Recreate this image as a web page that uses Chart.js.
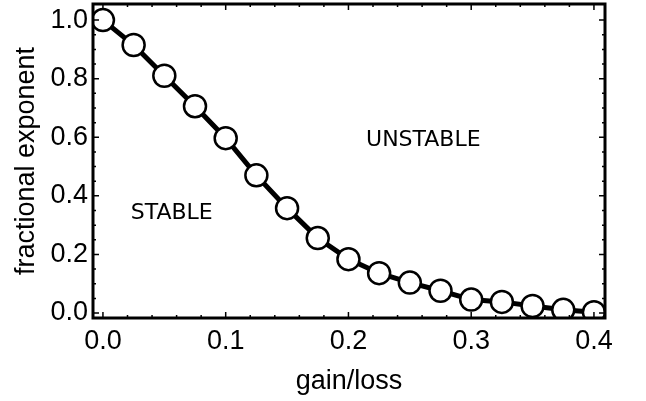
<!DOCTYPE html>
<html>
<head>
<meta charset="utf-8">
<script src="https://cdn.jsdelivr.net/npm/chart.js@4/dist/chart.umd.min.js"></script>
<style>
  html, body { margin: 0; padding: 0; background: #fff; }
  #wrap { width: 646px; height: 401px; }
</style>
</head>
<body>
<div id="wrap"><canvas id="exponent"></canvas></div>
<script>
const gainLoss = [0, 0.025, 0.05, 0.075, 0.1, 0.125, 0.15, 0.175, 0.2, 0.225, 0.25, 0.275, 0.3, 0.325, 0.35, 0.375, 0.4];
const exponent = [1.0, 0.915, 0.81, 0.706, 0.597, 0.47, 0.358, 0.256, 0.184, 0.136, 0.104, 0.076, 0.046, 0.038, 0.024, 0.011, 0.003];
const xTicks = [0, 0.1, 0.2, 0.3, 0.4];
const yTicks = [0, 0.2, 0.4, 0.6, 0.8, 1.0];
const regionNames = ["STABLE", "UNSTABLE"];
const regionAt = [[0.056, 0.34], [0.261, 0.59]];

const axisFont = { family: "'Liberation Sans', Arial, sans-serif", size: 27 };

// frame with inward ticks on all four sides, plus the region labels
const framePlugin = {
  id: "frame",
  afterDatasetsDraw(chart) {
    const { ctx, chartArea: a, scales: { x, y } } = chart;
    ctx.save();
    ctx.strokeStyle = "#000";
    ctx.lineWidth = 1.5;
    ctx.beginPath();
    for (let i = 0; i <= 20; i++) {
      const v = i * 0.02;
      const len = i % 5 === 0 ? 6 : 3;
      const px = x.getPixelForValue(v);
      ctx.moveTo(px, a.bottom); ctx.lineTo(px, a.bottom - len);
      ctx.moveTo(px, a.top); ctx.lineTo(px, a.top + len);
    }
    for (let i = 0; i <= 20; i++) {
      const v = i * 0.05;
      const len = i % 4 === 0 ? 6 : 3;
      const py = y.getPixelForValue(v);
      ctx.moveTo(a.left, py); ctx.lineTo(a.left + len, py);
      ctx.moveTo(a.right, py); ctx.lineTo(a.right - len, py);
    }
    ctx.stroke();
    ctx.lineWidth = 3;
    ctx.strokeRect(a.left, a.top, a.right - a.left, a.bottom - a.top);

    ctx.fillStyle = "#000";
    ctx.font = "22px 'DejaVu Sans'";
    ctx.textAlign = "center";
    ctx.textBaseline = "middle";
    regionNames.forEach((t, i) => {
      ctx.fillText(t, x.getPixelForValue(regionAt[i][0]), y.getPixelForValue(regionAt[i][1]));
    });
    ctx.restore();
  }
};

new Chart(document.getElementById("exponent"), {
  type: "line",
  data: {
    datasets: [{
      data: gainLoss.map((g, i) => ({ x: g, y: exponent[i] })),
      borderColor: "#000",
      borderWidth: 5,
      pointRadius: 11,
      pointBorderWidth: 2.5,
      pointBackgroundColor: "#fff",
      pointBorderColor: "#000",
      tension: 0,
      clip: 0
    }]
  },
  options: {
    responsive: true,
    maintainAspectRatio: false,
    animation: false,
    layout: { autoPadding: false, padding: { left: 0, right: 41, top: 4, bottom: 0 } },
    plugins: { legend: { display: false }, tooltip: { enabled: false } },
    scales: {
      x: {
        type: "linear",
        min: -0.0081,
        max: 0.409,
        grid: { display: false, drawTicks: false },
        border: { display: false },
        afterBuildTicks: (s) => { s.ticks = xTicks.map(v => ({ value: v })); },
        afterFit: (s) => { s.height = 83; s.paddingLeft = 0; s.paddingRight = 0; },
        ticks: {
          color: "#000",
          font: axisFont,
          padding: 7,
          maxRotation: 0,
          callback: (v) => Number(v).toFixed(1)
        },
        title: {
          display: true,
          text: "gain/loss",
          color: "#000",
          font: axisFont,
          padding: { top: 0, bottom: 3 }
        }
      },
      y: {
        min: -0.017,
        max: 1.055,
        grid: { display: false, drawTicks: false },
        border: { display: false },
        afterBuildTicks: (s) => { s.ticks = yTicks.map(v => ({ value: v })); },
        afterFit: (s) => { s.width = 93; s.paddingTop = 0; s.paddingBottom = 0; },
        ticks: {
          color: "#000",
          font: axisFont,
          padding: 5,
          callback: (v) => Number(v).toFixed(1)
        },
        title: {
          display: true,
          text: "fractional exponent",
          color: "#000",
          font: axisFont,
          padding: { top: 10, bottom: 0 }
        }
      }
    }
  },
  plugins: [framePlugin]
});
</script>
</body>
</html>
